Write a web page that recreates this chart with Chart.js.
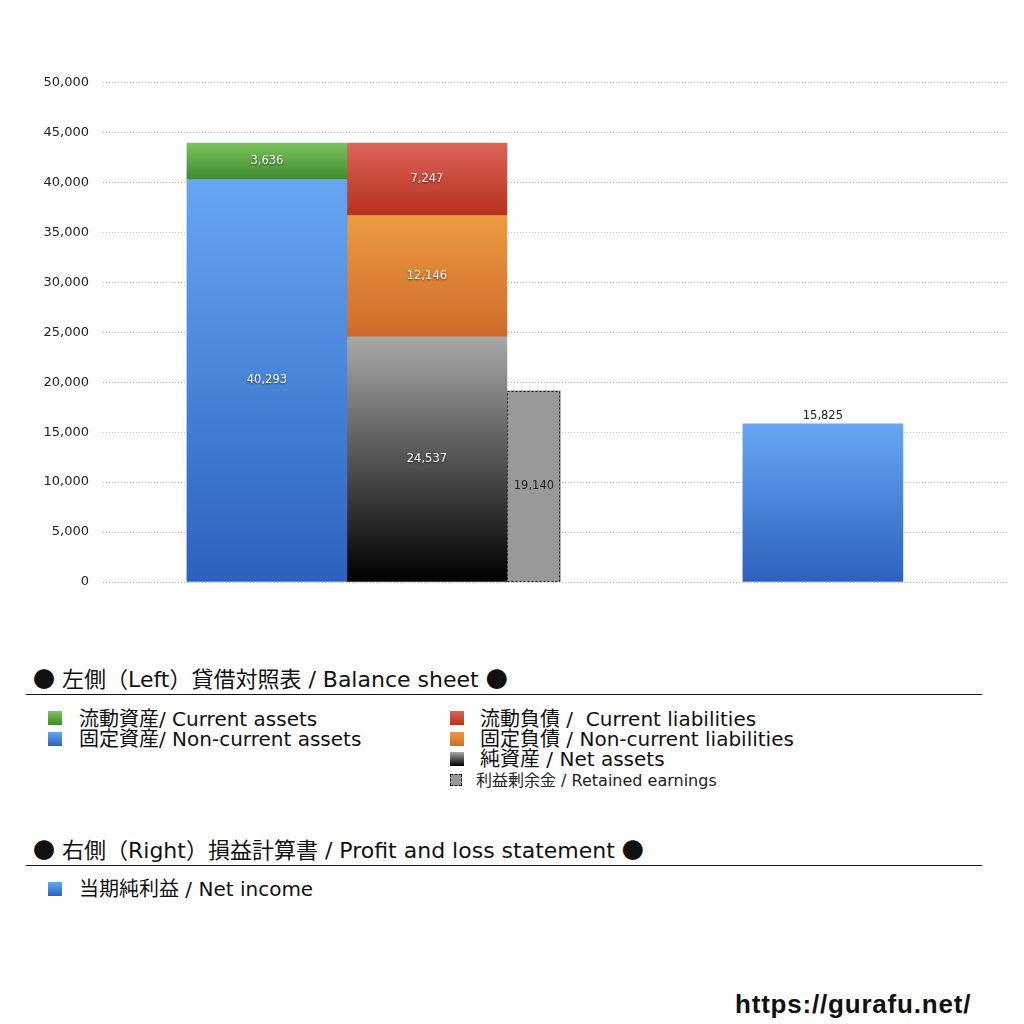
<!DOCTYPE html>
<html>
<head>
<meta charset="utf-8">
<script src="https://cdn.jsdelivr.net/npm/chart.js@4/dist/chart.umd.min.js"></script>
<style>
  html, body { margin: 0; padding: 0; background: #fff; }
  body { width: 1024px; height: 1024px; position: relative; overflow: hidden;
         font-family: "DejaVu Sans", "Noto Sans CJK JP", sans-serif; color: #111; }
  #wrap { position: absolute; left: 0; top: 0; width: 1024px; height: 620px; }
  .abs { position: absolute; white-space: nowrap; }
  .title { font-size: 22px; line-height: 24px; }
  .dot { font-family: "Noto Sans CJK JP", sans-serif; }
  .rule { position: absolute; left: 26px; width: 956px; height: 0; border-top: 1px solid #111; }
  .item { font-size: 20px; line-height: 20px; }
  .sq { position: absolute; width: 14px; height: 14px; }
  .small { font-size: 16px; line-height: 18px; color: #222; }
  .footer { font-family: "Liberation Sans", sans-serif; font-size: 26px; font-weight: bold; line-height: 30px; letter-spacing: 0.8px; }
</style>
</head>
<body>
<div id="wrap"><canvas id="c"></canvas></div>

<div class="abs title" style="left:33px; top:665px;"><span class="dot">●</span> 左側（Left）貸借対照表 / Balance sheet <span class="dot">●</span></div>
<div class="rule" style="top:694px;"></div>

<div class="sq" style="left:48px; top:711px; background:linear-gradient(#7cc35d,#3f8a30);"></div>
<div class="abs item" style="left:79px; top:709px;">流動資産/ Current assets</div>
<div class="sq" style="left:48px; top:732px; background:linear-gradient(#66a6f2,#2c62bf);"></div>
<div class="abs item" style="left:79px; top:729px;">固定資産/ Non-current assets</div>

<div class="sq" style="left:450px; top:711px; background:linear-gradient(#db6558,#b9301f);"></div>
<div class="abs item" style="left:480px; top:709px;">流動負債 /&nbsp; Current liabilities</div>
<div class="sq" style="left:450px; top:732px; background:linear-gradient(#eb9b40,#cf6a2a);"></div>
<div class="abs item" style="left:480px; top:729px;">固定負債 / Non-current liabilities</div>
<div class="sq" style="left:450px; top:752px; background:linear-gradient(#a8a8a8,#000);"></div>
<div class="abs item" style="left:480px; top:749px;">純資産 / Net assets</div>
<div class="sq" style="left:450px; top:774px; width:10px; height:10px; background:#999; border:1px dashed #222;"></div>
<div class="abs small" style="left:476px; top:772px;">利益剰余金 / Retained earnings</div>

<div class="abs title" style="left:33px; top:836px;"><span class="dot">●</span> 右側（Right）損益計算書 / Profit and loss statement <span class="dot">●</span></div>
<div class="rule" style="top:865px;"></div>
<div class="sq" style="left:48px; top:882px; background:linear-gradient(#66a6f2,#2c62bf);"></div>
<div class="abs item" style="left:79px; top:879px;">当期純利益 / Net income</div>

<div class="abs footer" style="left:735px; top:989px;">https://gurafu.net/</div>

<script>
// ---- data ----
const groups = ['貸借対照表 / Balance sheet', '損益計算書 / Profit and loss statement'];
const groupPositions = [0, 1];
const nonCurrentAssets = [40293, null];
const currentAssets = [3636, null];
const netAssets = [24537, null];
const nonCurrentLiabilities = [12146, null];
const currentLiabilities = [7247, null];
const retainedEarnings = [19140, null];
const netIncome = [null, 15825];
const yTickValues = [0, 5000, 10000, 15000, 20000, 25000, 30000, 35000, 40000, 45000, 50000];

// ---- helpers ----
function stackBase(chart, dsIndex, i) {
  const dss = chart.data.datasets;
  const stack = dss[dsIndex].stack;
  let base = 0;
  for (let d = 0; d < dsIndex; d++) {
    if (dss[d].stack === stack && dss[d].data[i] != null) base += dss[d].data[i];
  }
  return base;
}
function grad(top, bottom) {
  return function (ctx) {
    const chart = ctx.chart;
    if (!chart.chartArea || ctx.dataIndex === undefined) return top;
    const ds = chart.data.datasets[ctx.datasetIndex];
    const v = ds.data[ctx.dataIndex];
    if (v == null) return top;
    const base = stackBase(chart, ctx.datasetIndex, ctx.dataIndex);
    const y = chart.scales.y;
    const y0 = y.getPixelForValue(base + v);
    const y1 = y.getPixelForValue(base);
    const g = chart.ctx.createLinearGradient(0, y0, 0, y1);
    g.addColorStop(0, top);
    g.addColorStop(1, bottom);
    return g;
  };
}

const labelPlugin = {
  id: 'valueLabels',
  afterDatasetsDraw(chart) {
    const c = chart.ctx;
    chart.data.datasets.forEach((ds, di) => {
      const meta = chart.getDatasetMeta(di);
      meta.data.forEach((el, i) => {
        const v = ds.data[i];
        if (v == null) return;
        const p = el.getProps(['x', 'y', 'base', 'width'], true);
        c.save();
        if (ds.dashedBorder) {
          c.strokeStyle = '#111';
          c.lineWidth = 1;
          c.setLineDash([2, 2]);
          c.strokeRect(Math.round(p.x - p.width / 2) + 0.5, Math.round(p.y) + 0.5,
                       Math.round(p.width) - 1, Math.round(p.base - p.y) - 1);
          c.setLineDash([]);
        }
        c.font = '11.5px "DejaVu Sans", sans-serif';
        c.textAlign = 'center';
        const txt = v.toLocaleString('en-US');
        if (ds.labelPos === 'top') {
          c.fillStyle = '#222';
          c.textBaseline = 'bottom';
          c.fillText(txt, p.x, p.y - 2);
        } else if (ds.labelPos === 'dark') {
          c.fillStyle = '#222';
          c.textBaseline = 'middle';
          c.fillText(txt, p.x, (p.y + p.base) / 2);
        } else {
          c.fillStyle = '#fff';
          c.shadowColor = 'rgba(0,0,0,0.6)';
          c.shadowBlur = 2;
          c.shadowOffsetY = 1;
          c.textBaseline = 'middle';
          c.fillText(txt, p.x, (p.y + p.base) / 2);
        }
        c.restore();
      });
    });
  }
};

new Chart(document.getElementById('c'), {
  type: 'bar',
  data: {
    labels: groupPositions,
    datasets: [
      { label: '固定資産/ Non-current assets', data: nonCurrentAssets, stack: 'assets',
        backgroundColor: grad('#66a6f2', '#2c62bf'), barThickness: 160 },
      { label: '流動資産/ Current assets', data: currentAssets, stack: 'assets',
        backgroundColor: grad('#7cc35d', '#3f8a30'), barThickness: 160 },
      { label: '純資産 / Net assets', data: netAssets, stack: 'liab',
        backgroundColor: grad('#a8a8a8', '#000000'), barThickness: 160 },
      { label: '固定負債 / Non-current liabilities', data: nonCurrentLiabilities, stack: 'liab',
        backgroundColor: grad('#eb9b40', '#cf6a2a'), barThickness: 160 },
      { label: '流動負債 / Current liabilities', data: currentLiabilities, stack: 'liab',
        backgroundColor: grad('#db6558', '#b9301f'), barThickness: 160 },
      { label: '利益剰余金 / Retained earnings', data: retainedEarnings, stack: 'retained',
        backgroundColor: '#999999', barThickness: 107, maxBarThickness: 53,
        labelPos: 'dark', dashedBorder: true },
      { label: '当期純利益 / Net income', data: netIncome, stack: 'income',
        backgroundColor: grad('#66a6f2', '#2c62bf'), barThickness: 160, labelPos: 'top' }
    ]
  },
  options: {
    responsive: true,
    maintainAspectRatio: false,
    animation: false,
    skipNull: true,
    layout: { padding: { left: 0, right: 17, top: 82.5, bottom: 38 } },
    plugins: { legend: { display: false }, tooltip: { enabled: false } },
    scales: {
      x: {
        type: 'linear', stacked: true, offset: false,
        min: -0.818, max: 1.465, display: false
      },
      y: {
        stacked: true, min: 0, max: 50000,
        afterFit(scale) { scale.width = 103; },
        afterBuildTicks(scale) { scale.ticks = yTickValues.map(v => ({ value: v })); },
        ticks: {
          padding: 14, color: '#222',
          font: { size: 13, family: '"DejaVu Sans", sans-serif' },
          callback: v => v.toLocaleString('en-US')
        },
        grid: { color: '#bdbdbd', drawTicks: false, lineWidth: 1 },
        border: { display: false, dash: [1, 2] }
      }
    }
  },
  plugins: [labelPlugin]
});
</script>
</body>
</html>
